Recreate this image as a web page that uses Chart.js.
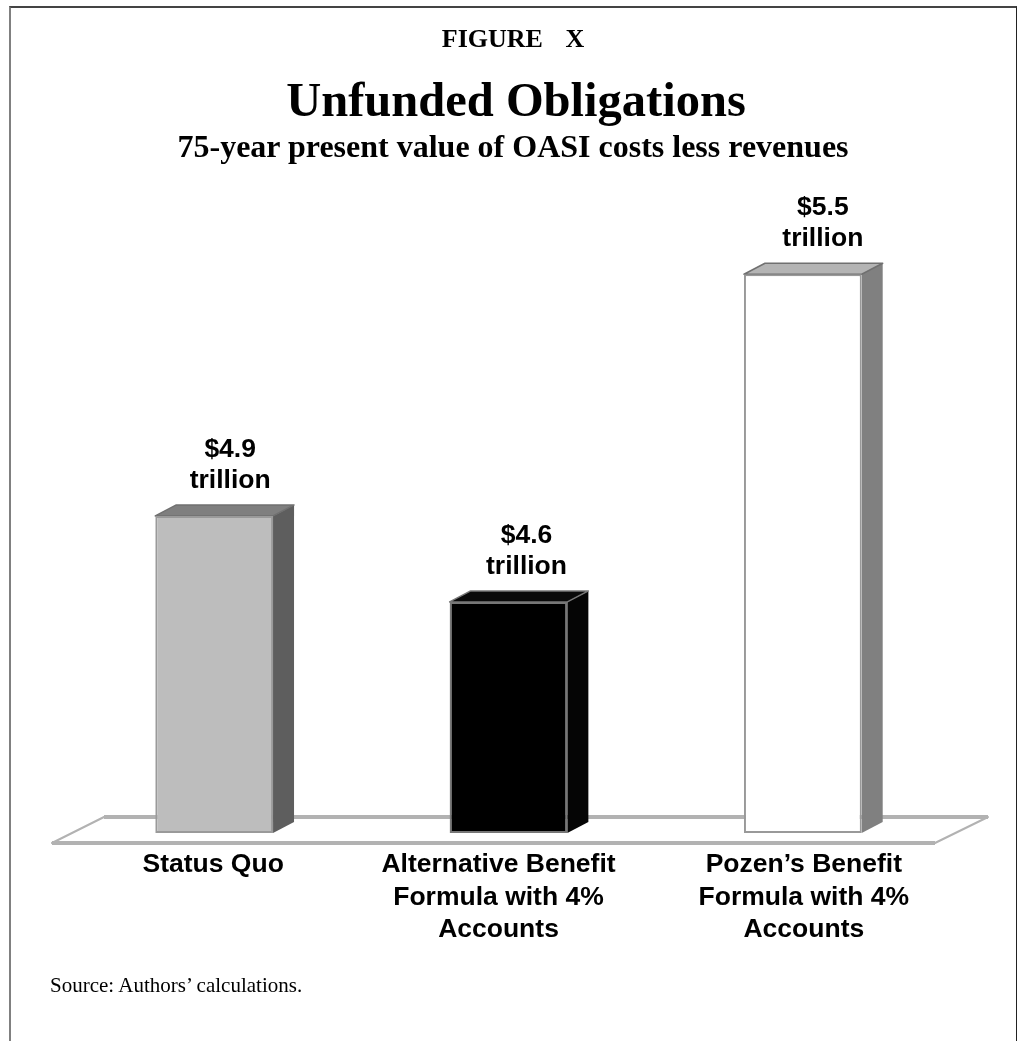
<!DOCTYPE html>
<html>
<head>
<meta charset="utf-8">
<title>Unfunded Obligations</title>
<script src="https://cdn.jsdelivr.net/npm/chart.js@4"></script>
<style>
    html, body { margin: 0; padding: 0; background: #fff; }
    #wrap { position: relative; width: 1020px; height: 1041px; overflow: hidden; }
    #frame { position: absolute; left: 9px; top: 6px; width: 1008px; height: 1040px; box-sizing: border-box;
        border-top: 2px solid #444; border-left: 2px solid #808080; border-right: 1px solid #222; }
    .head { position: absolute; left: 0; width: 1020px; text-align: center; white-space: pre; font-family: "Liberation Serif", serif; font-weight: bold; color: #000; line-height: 1; }
    #figure { top: 26px; left: 3px; font-size: 26px; word-spacing: 1px; }
    #title { top: 76px; left: 6px; font-size: 48.5px; }
    #subtitle { top: 130px; left: 3px; font-size: 32px; }
    #source { position: absolute; left: 50px; top: 973px; font: 21px "Liberation Serif", serif; color: #000; }
    canvas { position: absolute; left: 0; top: 0; }
</style>
</head>
<body>
<div id="wrap">
    <canvas id="chart" width="1020" height="1041"></canvas>
    <div id="frame"></div>
    <div id="figure" class="head">FIGURE   X</div>
    <div id="title" class="head">Unfunded Obligations</div>
    <div id="subtitle" class="head">75-year present value of OASI costs less revenues</div>
    <div id="source">Source: Authors’ calculations.</div>
</div>
<script>
// categories, one inner array per wrapped label line
const categories = [
    ["Status Quo"],
    ["Alternative Benefit", "Formula with 4%", "Accounts"],
    ["Pozen’s Benefit", "Formula with 4%", "Accounts"]
];
// printed values above the bars
const valueLabels = ["$4.9", "$4.6", "$5.5"];
const unitLabel = "trillion";
// bar heights as drawn; the first bar is a bit shorter than its printed 4.9 on this axis
const barHeights = [4.84, 4.605, 5.5];
const axisMin = 3.974;
const axisMax = 5.73;

const faceColors = ["#bdbdbd", "#000000", "#ffffff"];
const edgeColors = ["#9a9a9a", "#777777", "#999999"];
const topColors = ["#7f7f7f", "#0a0a0a", "#b4b4b4"];
const topEdgeColors = ["#707070", "#777777", "#707070"];
const sideColors = ["#5e5e5e", "#050505", "#808080"];

const DEPTH_X = 21;
const DEPTH_Y = -11;
const LABEL_FONT = 'bold 26.5px "Liberation Sans", sans-serif';
// the printed labels do not sit exactly on the bar centres
const valueShift = [16, 18, 20];
const categoryShift = [-1, -10, 1];

function fillPoly(ctx, pts, fill, stroke, lineWidth) {
    ctx.beginPath();
    pts.forEach((p, i) => i ? ctx.lineTo(p[0], p[1]) : ctx.moveTo(p[0], p[1]));
    ctx.closePath();
    ctx.fillStyle = fill;
    ctx.fill();
    if (stroke) {
        ctx.strokeStyle = stroke;
        ctx.lineWidth = lineWidth;
        ctx.lineJoin = "round";
        ctx.stroke();
    }
}

// the floor under the bars, the sides of each bar and the labels
const box3d = {
    id: "box3d",
    beforeDatasetsDraw(chart) {
        const ctx = chart.ctx;
        const area = chart.chartArea;
        ctx.save();
        const front = area.bottom + 10;
        const back = area.bottom - 16;
        fillPoly(ctx, [
            [area.left - 15, front],
            [area.right - 15, front],
            [area.right + 38, back],
            [area.left + 37, back]
        ], "#ffffff", "#b2b2b2", 2);
        ctx.strokeStyle = "#b2b2b2";
        ctx.lineWidth = 4;
        ctx.beginPath();
        ctx.moveTo(area.left - 15, front);
        ctx.lineTo(area.right - 15, front);
        ctx.moveTo(area.left + 37, back);
        ctx.lineTo(area.right + 38, back);
        ctx.stroke();

        chart.getDatasetMeta(0).data.forEach((bar, i) => {
            const l = bar.x - bar.width / 2;
            const r = bar.x + bar.width / 2;
            fillPoly(ctx, [[r, bar.y], [r + DEPTH_X, bar.y + DEPTH_Y], [r + DEPTH_X, bar.base + DEPTH_Y], [r, bar.base]], sideColors[i]);
            fillPoly(ctx, [[l, bar.y], [l + DEPTH_X, bar.y + DEPTH_Y], [r + DEPTH_X, bar.y + DEPTH_Y], [r, bar.y]], topColors[i], topEdgeColors[i], 1.5);
        });
        ctx.restore();
    },
    afterDatasetsDraw(chart) {
        const ctx = chart.ctx;
        const area = chart.chartArea;
        ctx.save();
        ctx.fillStyle = "#000";
        ctx.textAlign = "center";
        ctx.font = LABEL_FONT;
        chart.getDatasetMeta(0).data.forEach((bar, i) => {
            const cx = bar.x + valueShift[i];
            ctx.fillText(valueLabels[i], cx, bar.y - 59);
            ctx.fillText(unitLabel, cx, bar.y - 28);
            categories[i].forEach((line, n) => {
                ctx.fillText(line, bar.x + categoryShift[i], area.bottom + 39 + n * 32.5);
            });
        });
        ctx.restore();
    }
};

new Chart(document.getElementById("chart"), {
    type: "bar",
    data: {
        labels: categories,
        datasets: [{
            data: barHeights,
            base: axisMin,
            backgroundColor: faceColors,
            borderColor: edgeColors,
            borderWidth: 2,
            borderSkipped: false,
            barPercentage: 0.4,
            categoryPercentage: 1
        }]
    },
    plugins: [box3d],
    options: {
        responsive: false,
        animation: false,
        layout: { padding: { left: 67, right: 70, top: 190, bottom: 200 } },
        plugins: {
            legend: { display: false },
            tooltip: { enabled: false }
        },
        scales: {
            x: {
                grid: { display: false },
                border: { display: false },
                ticks: { display: false }
            },
            y: {
                display: false,
                min: axisMin,
                max: axisMax
            }
        }
    }
});
</script>
</body>
</html>
